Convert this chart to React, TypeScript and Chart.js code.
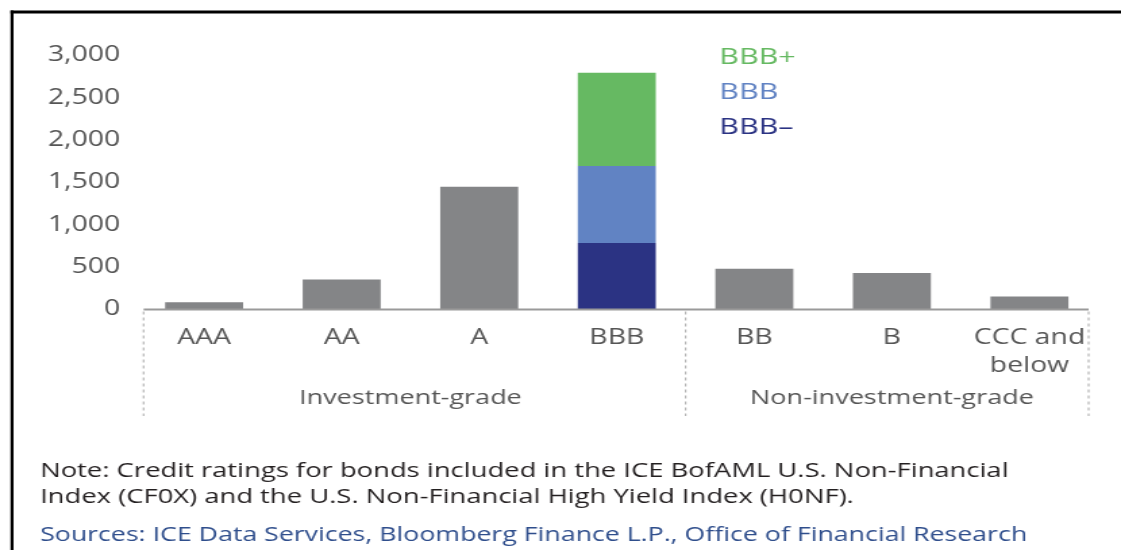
import React, { useEffect, useRef } from "react";
import { Chart, registerables } from "chart.js";

Chart.register(...registerables);

// ---- data ----
const categories: (string | string[])[] = ["AAA", "AA", "A", "BBB", "BB", "B", ["CCC and", "below"]];
const otherRatings = [85, 355, 1450, null, 480, 430, 155];
const bbbMinus = [null, null, null, 785, null, null, null];
const bbbMid = [null, null, null, 910, null, null, null];
const bbbPlus = [null, null, null, 1100, null, null, null];
const seriesLabels = ["BBB+", "BBB", "BBB\u2013"];
const yTickValues = [0, 500, 1000, 1500, 2000, 2500, 3000];
const groupLabels = ["Investment-grade", "Non-investment-grade"];
const groupRanges = [[0, 3], [4, 6]];
const noteLines = [
  "Note: Credit ratings for bonds included in the ICE BofAML U.S. Non-Financial",
  "Index (CF0X) and the U.S. Non-Financial High Yield Index (H0NF).",
];
const sourceLine = "Sources: ICE Data Services, Bloomberg Finance L.P., Office of Financial Research";

// ---- look ----
const SX = 1.35; // horizontal stretch of the reference picture
const W = Math.round(1121 / SX);
const H = 550;
const FONT = "'Open Sans', 'Noto Sans', sans-serif";
const GREY = "#848587";
const GREEN = "#66b962";
const BLUE = "#6183c3";
const NAVY = "#2b3383";
const TEXT = "#555555";

const X = (v: number) => v / SX;

const decorPlugin = {
  id: "decor",
  afterDraw(chart: any) {
    const ctx = chart.ctx as CanvasRenderingContext2D;
    const xs = chart.scales.x;
    const ys = chart.scales.y;
    const c = (i: number) => xs.getPixelForValue(i);
    const step = c(1) - c(0);
    const base = ys.getPixelForValue(0);
    ctx.save();

    // frame
    ctx.strokeStyle = "#000";
    ctx.lineWidth = 3;
    ctx.beginPath();
    ctx.moveTo(X(10.5), 12);
    ctx.lineTo(W, 12);
    ctx.stroke();
    ctx.lineWidth = 3 / SX;
    ctx.beginPath();
    ctx.moveTo(X(12), 10.5);
    ctx.lineTo(X(12), H);
    ctx.stroke();

    // baseline
    const left = c(0) - 0.44 * step;
    const right = c(categories.length - 1) + 0.43 * step;
    ctx.strokeStyle = "#9a9a9a";
    ctx.lineWidth = 2;
    ctx.beginPath();
    ctx.moveTo(left, base);
    ctx.lineTo(right, base);
    ctx.stroke();

    // dotted separators
    ctx.strokeStyle = "#b5b5b5";
    ctx.lineWidth = 1.6 / SX;
    ctx.setLineDash([3, 3]);
    const sep = [left, (c(3) + c(4)) / 2, right];
    sep.forEach((x) => {
      ctx.beginPath();
      ctx.moveTo(x, base + 2);
      ctx.lineTo(x, 416);
      ctx.stroke();
    });
    ctx.setLineDash([]);

    // group labels
    ctx.fillStyle = TEXT;
    ctx.font = `20px ${FONT}`;
    ctx.textAlign = "center";
    ctx.textBaseline = "middle";
    groupLabels.forEach((g, i) => {
      const [a, b] = groupRanges[i];
      ctx.fillText(g, (c(a) + c(b)) / 2, 398);
    });

    // legend
    ctx.textAlign = "left";
    ctx.font = `22.5px ${FONT}`;
    const legColors = [GREEN, BLUE, NAVY];
    const legY = [58, 93, 127.5];
    seriesLabels.forEach((s, i) => {
      ctx.fillStyle = legColors[i];
      ctx.fillText(s, X(719), legY[i]);
    });

    // notes
    ctx.fillStyle = "#231f20";
    ctx.font = `20.3px ${FONT}`;
    ctx.fillText(noteLines[0], X(40), 471);
    ctx.fillText(noteLines[1], X(40), 497);
    ctx.fillStyle = "#2f4e8c";
    ctx.font = `19.8px ${FONT}`;
    ctx.fillText(sourceLine, X(40), 535);
    ctx.restore();
  },
};

export default function App() {
  const ref = useRef<HTMLCanvasElement | null>(null);
  useEffect(() => {
    if (!ref.current) return;
    const chart = new Chart(ref.current, {
      type: "bar",
      data: {
        labels: categories as any,
        datasets: [
          { label: "Other", data: otherRatings as any, backgroundColor: GREY },
          { label: seriesLabels[2], data: bbbMinus as any, backgroundColor: NAVY },
          { label: seriesLabels[1], data: bbbMid as any, backgroundColor: BLUE },
          { label: seriesLabels[0], data: bbbPlus as any, backgroundColor: GREEN },
        ],
      },
      options: {
        responsive: false,
        animation: false,
        devicePixelRatio: 1,
        layout: { padding: { top: 55.5, left: 0, right: W - X(1097.75), bottom: 0 } },
        datasets: { bar: { barPercentage: 0.567, categoryPercentage: 1, borderWidth: 0 } },
        plugins: { legend: { display: false }, tooltip: { enabled: false } },
        scales: {
          x: {
            stacked: true,
            grid: { display: false, drawTicks: false },
            border: { display: false },
            ticks: {
              color: TEXT,
              font: { family: FONT, size: 21, lineHeight: 1.36 },
              padding: 14,
              maxRotation: 0,
              autoSkip: false,
            },
            afterFit: (s: any) => {
              s.height = H - 309.5;
            },
          },
          y: {
            stacked: true,
            min: 0,
            max: 3000,
            grid: { display: false, drawTicks: false },
            border: { display: false },
            afterBuildTicks: (s: any) => {
              s.ticks = yTickValues.map((v) => ({ value: v }));
            },
            ticks: {
              color: TEXT,
              font: { family: FONT, size: 21 },
              padding: X(15),
              callback: (v: any) => Number(v).toLocaleString("en-US"),
            },
            afterFit: (s: any) => {
              s.width = X(135.25);
            },
          },
        },
      },
      plugins: [decorPlugin],
    });
    return () => chart.destroy();
  }, []);
  return (
    <div style={{ position: "absolute", left: 0, top: 0, width: 1121, height: H, background: "#fff" }}>
      <canvas ref={ref} width={W} height={H} style={{ width: "1121px", height: H + "px", display: "block" }} />
    </div>
  );
}
